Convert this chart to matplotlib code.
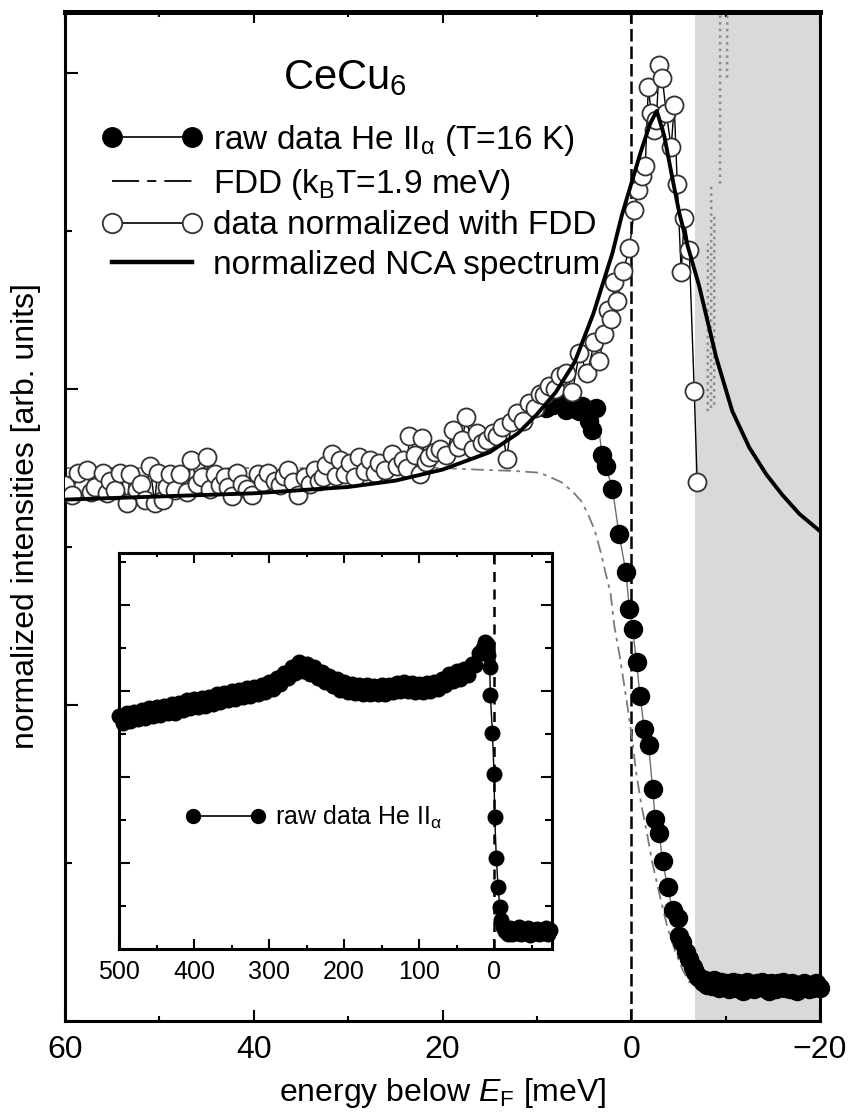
import matplotlib
matplotlib.use("Agg")
import matplotlib.pyplot as plt
from matplotlib.lines import Line2D
from matplotlib.ticker import MultipleLocator, FixedLocator

plt.rcParams['font.family'] = ['Liberation Sans', 'DejaVu Sans']
plt.rcParams['mathtext.fontset'] = 'custom'
plt.rcParams['mathtext.rm'] = 'Liberation Sans'
plt.rcParams['mathtext.it'] = 'Liberation Sans:italic'
plt.rcParams['mathtext.default'] = 'regular'

nan = float('nan')

# ---------------- data ----------------
# normalized data (open circles): energy below E_F [meV], intensity
norm_E = [60.0, 59.3, 58.6, 57.7, 57.2, 56.8, 56.0, 55.6, 55.2, 54.7, 54.2, 53.4, 53.1, 52.4, 51.9,
          51.5, 51.0, 50.5, 50.2, 49.6, 49.2, 48.9, 48.3, 47.8, 47.1, 46.6, 46.0, 45.5, 45.0, 44.6,
          44.1, 43.6, 43.1, 42.7, 42.3, 41.8, 41.2, 40.7, 40.2, 39.6, 39.0, 38.5, 37.8, 37.2, 36.8,
          36.4, 35.8, 35.3, 34.6, 34.0, 33.5, 33.1, 32.7, 32.3, 31.7, 31.3, 30.9, 30.3, 29.8, 29.3,
          28.8, 28.2, 27.7, 27.2, 26.7, 26.1, 25.4, 24.8, 24.2, 23.8, 23.5, 22.9, 22.4, 22.2, 21.8,
          21.4, 20.8, 20.3, 19.6, 18.9, 18.4, 17.9, 17.5, 16.8, 16.4, 15.8, 15.3, 14.7, 14.2, 13.7,
          13.2, 12.7, 12.1, 11.5, 10.8, 10.2, 9.7, 9.2, 8.7, 8.1, 7.6, 6.9, 6.24, 5.5, 4.66,
          3.9, 3.39, 2.86, 2.5, 2.1, 1.8, 1.48, 0.85, 0.21, -0.32, -0.74, -1.1, -1.48, -1.8, -2.1,
          -2.43, -2.65, -2.96, -3.28, -3.7, -4.23, -4.55, -4.87, -5.29, -5.6, -6.14, -6.67, -6.98]
norm_y = [3.39, 3.33, 3.47, 3.49, 3.35, 3.38, 3.47, 3.34, 3.42, 3.36, 3.47, 3.28, 3.46, 3.36, 3.40,
          3.30, 3.51, 3.28, 3.47, 3.30, 3.38, 3.46, 3.36, 3.46, 3.35, 3.55, 3.40, 3.44, 3.57, 3.37,
          3.46, 3.39, 3.44, 3.38, 3.32, 3.47, 3.40, 3.37, 3.33, 3.46, 3.41, 3.47, 3.42, 3.39, 3.45,
          3.49, 3.41, 3.33, 3.44, 3.40, 3.49, 3.42, 3.44, 3.52, 3.59, 3.45, 3.55, 3.46, 3.53, 3.44,
          3.57, 3.48, 3.55, 3.47, 3.53, 3.49, 3.59, 3.51, 3.55, 3.50, 3.70, 3.58, 3.46, 3.69, 3.54,
          3.57, 3.60, 3.62, 3.58, 3.74, 3.63, 3.68, 3.82, 3.62, 3.72, 3.66, 3.68, 3.72, 3.70, 3.76,
          3.56, 3.79, 3.85, 3.80, 3.91, 3.88, 3.97, 3.96, 4.02, 4.00, 4.08, 4.10, 3.98, 4.23, 4.10,
          4.30, 4.18, 4.35, 4.50, 4.44, 4.68, 4.56, 4.75, 4.89, 5.13, 5.26, 5.35, 5.41, 5.91, 5.75,
          5.64, 5.70, 6.05, 5.97, 5.75, 5.53, 5.80, 5.30, 4.74, 5.08, 4.88, 3.99, 3.41]

# normalized data beyond the cut-off (grey, going off scale; NaN separates strokes)
over_E = [-8.10, -8.12, nan, -8.45, -8.47, nan, -8.78, -8.80, nan, -9.40, -9.42, nan, -10.15, -10.17]
over_y = [3.86, 4.92, nan, 3.88, 5.30, nan, 3.90, 5.10, nan, 5.30, 6.60, nan, 5.97, 6.60]

# raw data He II alpha (filled circles)
raw_E = [9.0, 8.3, 7.6, 6.9, 6.2, 5.5, 5.2, 4.5, 4.2, 3.7, 3.1, 2.7, 2.0, 1.3, 0.56,
         0.21, -0.14, -0.56, -0.92, -1.38, -1.83, -2.26, -2.54, -2.96, -3.32, -3.84, -4.37, -4.9, -5.08, -5.4,
         -5.79, -6.1, -6.49, -6.8, -7.05, -7.3, -7.55, -7.8, -8.05, -8.3, -8.55, -8.8, -9.05, -9.3, -9.55,
         -9.8, -10.05, -10.3, -10.55, -10.8, -11.05, -11.3, -11.55, -11.8, -12.05, -12.3, -12.55, -12.8, -13.05,
         -13.3, -13.55, -13.8, -14.05, -14.3, -14.55, -14.8, -15.05, -15.3, -15.55, -15.8, -16.05, -16.3,
         -16.55, -16.8, -17.05, -17.3, -17.55, -17.8, -18.05, -18.3, -18.55, -18.8, -19.05, -19.3, -19.55,
         -19.8, -20.0]
raw_y = [3.88, 3.90, 3.92, 3.87, 3.90, 3.86, 3.89, 3.80, 3.74, 3.88, 3.58, 3.51, 3.37, 3.08, 2.84,
         2.61, 2.48, 2.27, 2.06, 1.85, 1.75, 1.47, 1.28, 1.19, 1.01, 0.85, 0.70, 0.65, 0.54, 0.50,
         0.44, 0.39, 0.34, 0.31, 0.28, 0.27, 0.25, 0.26, 0.23, 0.25, 0.22, 0.26, 0.23, 0.21, 0.25,
         0.22, 0.24, 0.20, 0.23, 0.25, 0.21, 0.24, 0.22, 0.19, 0.23, 0.25, 0.21, 0.23, 0.20,
         0.24, 0.22, 0.25, 0.21, 0.23, 0.19, 0.24, 0.22, 0.20, 0.24, 0.22, 0.25, 0.21,
         0.23, 0.20, 0.24, 0.22, 0.19, 0.23, 0.21, 0.24, 0.22, 0.20, 0.23, 0.21, 0.24,
         0.22, 0.21]

# Fermi-Dirac distribution (dash-dot)
fdd_E = [60, 50, 40, 30, 20, 16.4, 14, 12, 9.7, 8.5, 7.4, 6.2, 5.3, 4.6, 3.9, 3.2, 2.7, 2.2,
         1.8, 1.2, 0.4, -0.1, -0.5, -1.06, -1.6, -2.2, -3.0, -3.8, -4.6, -5.4, -6.2]
fdd_y = [3.50, 3.50, 3.50, 3.50, 3.50, 3.49, 3.485, 3.48, 3.47, 3.44, 3.41, 3.35, 3.29, 3.21, 3.11, 2.96,
         2.83, 2.71, 2.50, 2.30, 1.99, 1.78, 1.58, 1.37, 1.21, 1.01, 0.80, 0.60, 0.45, 0.33, 0.24]

# normalized NCA spectrum (solid)
nca_E = [60, 50, 40, 30, 25, 20, 15, 12, 10, 8, 6, 4, 2, 1, 0, -1, -2, -2.7, -3.5, -4.3,
         -5.1, -6, -7.2, -9, -10.7, -12.5, -14.3, -16, -17.8, -20]
nca_y = [3.30, 3.32, 3.34, 3.38, 3.42, 3.49, 3.60, 3.72, 3.84, 3.98, 4.17, 4.48, 4.86, 5.10, 5.30,
         5.50, 5.68, 5.76, 5.60, 5.35, 5.11, 4.90, 4.65, 4.20, 3.86, 3.63, 3.46, 3.33, 3.21, 3.10]

# inset: wide-range raw data
inset_E = [500, 495, 490, 485, 480, 475, 470, 465, 460, 455, 450, 445, 440, 435, 430, 425, 420, 415,
           410, 405, 400, 395, 390, 385, 380, 375, 370, 365, 360, 355, 350, 345, 340, 335, 330, 325,
           320, 315, 310, 305, 300, 295, 290, 285, 280, 275, 270, 265, 260, 255, 250, 245, 240, 235,
           230, 225, 220, 215, 210, 205, 200, 195, 190, 185, 180, 175, 170, 165, 160, 155, 150, 145,
           140, 135, 130, 125, 120, 115, 110, 105, 100, 95, 90, 85, 80, 75, 70, 65, 60, 55, 50, 45,
           40, 35, 30, 25, 20, 15, 12, 10, 8, 5.8, 4.9, 2.2, 0, -0.9, -3.1, -5.3, -7.6, -9.8,
           -12, -15, -18, -21, -24, -27, -30, -33, -36, -39, -42, -45, -48, -51, -54, -57, -60,
           -63, -66, -69, -72, -75]
inset_y = [5.43, 5.26, 5.48, 5.30, 5.52, 5.34, 5.55, 5.38, 5.60, 5.41, 5.62, 5.44, 5.65, 5.48, 5.70,
           5.50, 5.72, 5.55, 5.78, 5.60, 5.82, 5.63, 5.84, 5.66, 5.87, 5.69, 5.92, 5.74, 5.96, 5.78,
           6.01, 5.82, 6.03, 5.85, 6.07, 5.88, 6.10, 5.92, 6.14, 5.97, 6.20, 6.05, 6.30, 6.17, 6.43,
           6.30, 6.55, 6.42, 6.67, 6.47, 6.63, 6.39, 6.55, 6.30, 6.45, 6.20, 6.36, 6.11, 6.27, 6.03,
           6.20, 5.98, 6.17, 5.96, 6.15, 5.94, 6.13, 5.92, 6.12, 5.92, 6.13, 5.94, 6.15, 5.97, 6.18,
           5.99, 6.20, 5.99, 6.18, 5.97, 6.17, 5.97, 6.18, 5.99, 6.20, 6.04, 6.28, 6.14, 6.40, 6.23,
           6.46, 6.29, 6.52, 6.37, 6.63, 6.60, 6.88, 7.00, 7.15, 7.10, 6.84, 6.56, 5.91, 5.03, 4.08,
           3.06, 2.11, 1.45, 0.98, 0.67, 0.50, 0.42, 0.36, 0.48, 0.34, 0.45, 0.38, 0.50, 0.35, 0.44,
           0.37, 0.49, 0.33, 0.45, 0.39, 0.47, 0.34, 0.44, 0.38, 0.48, 0.36, 0.43]

xticks_main = [60, 40, 20, 0, -20]
xticklabels_main = ['60', '40', '20', '0', '\u221220']
xticks_inset = [500, 400, 300, 200, 100, 0]
xticklabels_inset = ['500', '400', '300', '200', '100', '0']

legend_labels = ['raw data He II$_{\\alpha}$ (T=16 K)', 'FDD (k$_B$T=1.9 meV)',
                 'data normalized with FDD', 'normalized NCA spectrum']

assert len(norm_E) == len(norm_y)
assert len(raw_E) == len(raw_y)
assert len(fdd_E) == len(fdd_y)
assert len(nca_E) == len(nca_y)
assert len(inset_E) == len(inset_y), (len(inset_E), len(inset_y))
assert len(over_E) == len(over_y)

# ---------------- figure ----------------
fig = plt.figure(figsize=(8.52, 11.12), dpi=100)
ax = fig.add_axes([0.0763, 0.0818, 0.8862, 0.9074])
ax.set_xlim(60, -20)
ax.set_ylim(0, 6.386)

ax.axvspan(-6.7, -20, color='#d9d9d9', lw=0, zorder=0)
ax.axvline(0, color='k', lw=1.8, dashes=(5, 2), zorder=1)

fdd_dash = (7, 3, 2, 3)
ax.plot(fdd_E, fdd_y, color='#7a7a7a', lw=1.3, dashes=fdd_dash, zorder=2)
ax.plot(raw_E, raw_y, '-', color='#6e6e6e', lw=1.0, marker='o', ms=13, mfc='k', mec='k',
        zorder=3, clip_on=False)
ax.plot(over_E, over_y, color='#8c8c8c', lw=1.8, ls=':', zorder=3)
ax.plot(norm_E, norm_y, '-', color='k', lw=1.0, marker='o', ms=13, mfc='white', mec='#333333',
        mew=1.3, zorder=4)
ax.plot(nca_E, nca_y, color='k', lw=2.8, zorder=5, solid_capstyle='butt')

for s in ['left', 'bottom', 'right']:
    ax.spines[s].set_linewidth(2.2)
ax.spines['top'].set_linewidth(3.6)

ax.xaxis.set_major_locator(FixedLocator(xticks_main))
ax.set_xticklabels(xticklabels_main)
ax.xaxis.set_minor_locator(MultipleLocator(10))
ax.yaxis.set_major_locator(MultipleLocator(2))
ax.yaxis.set_minor_locator(MultipleLocator(1))
ax.tick_params(axis='x', which='both', direction='in', top=True, bottom=True,
               labelsize=23, pad=10, width=1.5)
ax.tick_params(axis='x', which='major', length=8)
ax.tick_params(axis='x', which='minor', length=3.5)
ax.tick_params(axis='y', which='both', direction='in', left=True, right=False,
               labelleft=False, width=1.5)
ax.tick_params(axis='y', which='major', length=9.5)
ax.tick_params(axis='y', which='minor', length=5)

ax.set_xlabel('energy below $\\mathit{E}_F$ [meV]', fontsize=23, labelpad=8)
ax.set_ylabel('normalized intensities [arb. units]', fontsize=23)
ax.yaxis.set_label_coords(-0.032, 0.5)

ax.text(0.371, 0.9237, 'CeCu$_6$', transform=ax.transAxes, ha='center', va='baseline',
        fontsize=30)

handles = [
    Line2D([], [], color='k', lw=1.2, marker='o', ms=14, mfc='k', mec='k'),
    Line2D([], [], color='k', lw=1.3, dashes=(15, 4.5, 5, 4.5)),
    Line2D([], [], color='k', lw=1.2, marker='o', ms=14, mfc='white', mec='#333333', mew=1.3),
    Line2D([], [], color='k', lw=3.2),
]
ax.legend(handles, legend_labels, loc='upper left', bbox_to_anchor=(0.049, 0.890),
          frameon=False, fontsize=24, handlelength=3.0, handletextpad=0.33,
          labelspacing=0.26, borderpad=0, borderaxespad=0, numpoints=2)

# ---------------- inset ----------------
iax = fig.add_axes([0.1397, 0.1466, 0.5082, 0.3561])
iax.set_xlim(500, -77.3)
iax.set_ylim(0, 9.21)
iax.axvline(0, color='k', lw=1.8, dashes=(4, 3), zorder=1)
iax.plot(inset_E, inset_y, '-', color='k', lw=1.0, marker='o', ms=10.5, mfc='k', mec='k',
         zorder=3, clip_on=False)
for s in iax.spines.values():
    s.set_linewidth(2.2)
iax.xaxis.set_major_locator(FixedLocator(xticks_inset))
iax.set_xticklabels(xticklabels_inset)
iax.xaxis.set_minor_locator(MultipleLocator(50))
iax.yaxis.set_major_locator(MultipleLocator(2))
iax.yaxis.set_minor_locator(MultipleLocator(1))
iax.tick_params(axis='x', which='both', direction='in', top=True, bottom=True,
                labelsize=18, pad=8, width=1.5)
iax.tick_params(axis='x', which='major', length=7)
iax.tick_params(axis='x', which='minor', length=3)
iax.tick_params(axis='y', which='both', direction='in', left=True, right=True,
                labelleft=False, width=1.5)
iax.tick_params(axis='y', which='major', length=8)
iax.tick_params(axis='y', which='minor', length=5)

ih = [Line2D([], [], color='k', lw=1.2, marker='o', ms=10, mfc='k', mec='k')]
iax.legend(ih, ['raw data He II$_{\\alpha}$'], loc='center left', bbox_to_anchor=(0.154, 0.333),
           frameon=False, fontsize=18, handlelength=3.2, handletextpad=0.38,
           borderpad=0, borderaxespad=0, numpoints=2)

fig.savefig('out.png', dpi=100)
